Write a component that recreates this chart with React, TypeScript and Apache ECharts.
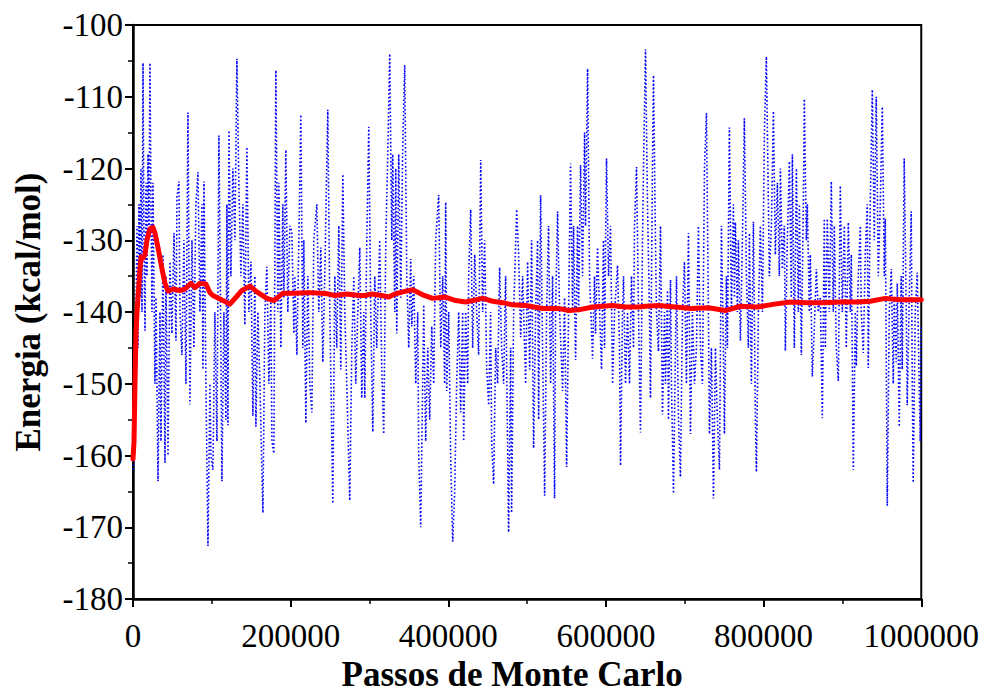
import React, { useEffect, useRef } from "react";
import * as echarts from "echarts";

// Monte Carlo steps (in thousands) and instantaneous energy (kcal/mol)
const blueTrace: [number, number][] = [
  [0, -162], [1.3, -161], [2.5, -158], [3.8, -140], [5.1, -128], [6.3, -145], [7.6, -125], [8.9, -138], [10.1, -120], [11.4, -140],
  [12.7, -105.3], [13.9, -130], [15.2, -142.6], [16.5, -122], [17.7, -135], [19.0, -118], [20.3, -128], [21.5, -105.3], [22.8, -125], [24.1, -140],
  [25.3, -122], [27.9, -150], [29.2, -138], [31.7, -163.6], [34.2, -140], [35.5, -158], [38.0, -132], [40.6, -161], [41.8, -135], [44.4, -160],
  [46.9, -133], [49.4, -143], [52.0, -129], [54.5, -144], [55.8, -124], [58.3, -121.8], [59.6, -140], [62.1, -146], [64.6, -130], [67.2, -150],
  [69.7, -112.2], [72.2, -152.9], [74.8, -130], [77.3, -145], [79.8, -125], [82.4, -120.5], [84.9, -140], [87.5, -125], [88.7, -148], [90.0, -121.8],
  [92.5, -150], [95.1, -172.6], [97.6, -150], [98.9, -160], [101.4, -162], [103.9, -140], [106.5, -158], [109.0, -115.4], [111.5, -145], [112.8, -163.6],
  [115.3, -140], [117.9, -155], [119.1, -125], [120.4, -155.8], [121.7, -114.7], [124.2, -135], [126.7, -120], [129.3, -130], [131.8, -104.7], [134.3, -122],
  [136.9, -135], [139.4, -125], [141.9, -141.8], [144.5, -117], [147.0, -140], [149.6, -133], [152.1, -154.5], [154.6, -135], [155.9, -156], [158.4, -140],
  [161.0, -150], [164.8, -168], [167.3, -140], [169.8, -133.7], [172.4, -150], [174.9, -138], [176.2, -158], [178.7, -159.7], [181.2, -106.3], [183.8, -140],
  [185.0, -122], [187.6, -145], [190.1, -125], [191.4, -138], [193.9, -117.4], [196.4, -140], [199.0, -128], [201.5, -128.7], [204.1, -143], [205.3, -135],
  [207.9, -146], [210.4, -130], [212.9, -112.5], [215.5, -145], [216.7, -130], [219.3, -155.5], [221.8, -135], [224.3, -150], [226.9, -154], [229.4, -130],
  [233.2, -125], [235.7, -140], [238.3, -131], [240.8, -147], [243.3, -135], [247.1, -111.8], [249.7, -140], [253.5, -166.7], [256.0, -135], [258.5, -145],
  [261.1, -128], [263.6, -148], [266.2, -120.8], [268.7, -140], [271.2, -150], [275.0, -166.3], [277.6, -145], [280.1, -135], [282.6, -150], [285.2, -140],
  [287.7, -131], [290.2, -152], [292.8, -140], [294.0, -152], [296.6, -130], [299.1, -114.2], [301.6, -140], [304.2, -156.7], [306.7, -135], [309.2, -145],
  [313.0, -130], [315.6, -148], [318.1, -157], [320.7, -130], [323.2, -118], [325.7, -104], [328.3, -130], [329.5, -118], [332.1, -140], [333.3, -120],
  [334.6, -143], [337.1, -118], [339.7, -138], [342.2, -117], [344.7, -105.6], [347.3, -135], [349.8, -145], [352.3, -132.6], [353.6, -142], [356.1, -135],
  [358.7, -150], [361.2, -140], [362.5, -160], [365.0, -170], [367.5, -150], [368.8, -139], [371.3, -158], [373.9, -145], [376.4, -155], [379.0, -142],
  [381.5, -150], [384.0, -130], [387.8, -123.7], [390.4, -145], [392.9, -135], [395.4, -150], [396.7, -124.7], [398.0, -151], [400.5, -140], [403.0, -160],
  [405.6, -172], [408.1, -165], [410.6, -150], [413.2, -140], [415.7, -154], [418.2, -140], [419.5, -158], [422.0, -140], [424.6, -150], [425.8, -135],
  [428.4, -125.7], [430.9, -145], [433.5, -132], [436.0, -140], [438.5, -146], [441.1, -118.8], [443.6, -140], [446.1, -130], [448.7, -148], [451.2, -153],
  [453.7, -140], [455.0, -158], [457.5, -164], [460.1, -145], [462.6, -150], [465.1, -133.8], [467.7, -145], [470.2, -150], [472.7, -135], [476.5, -170.7],
  [479.1, -145], [480.3, -168], [482.9, -140], [486.7, -125.7], [489.2, -132], [491.8, -143.5], [494.3, -135], [498.1, -150], [500.6, -133], [503.2, -148],
  [505.7, -130], [508.2, -159], [510.8, -140], [513.3, -130], [514.6, -155], [517.1, -123.7], [519.6, -145], [522.2, -165.6], [524.7, -140], [527.2, -128],
  [529.8, -150], [532.3, -135], [534.8, -166], [536.1, -140], [538.6, -126], [541.2, -140], [545.0, -151], [547.5, -138], [550.1, -161.6], [552.6, -140],
  [555.1, -119.3], [557.7, -140], [558.9, -128], [561.5, -146.7], [564.0, -128], [565.3, -140], [567.8, -119.5], [570.3, -135], [572.9, -115], [574.1, -128],
  [576.7, -106.1], [579.2, -135], [583.0, -146.5], [585.5, -135], [586.8, -143], [589.3, -131], [591.9, -140], [594.4, -148], [596.9, -130], [598.2, -145],
  [600.7, -118.6], [603.3, -135], [605.8, -128], [608.4, -150], [610.9, -140], [614.7, -133.5], [617.2, -145], [618.5, -161.4], [621.0, -140], [622.3, -135],
  [624.8, -150], [627.4, -140], [629.9, -150], [632.4, -135], [635.0, -145], [636.2, -128], [638.8, -119.8], [641.3, -140], [643.8, -156.8], [646.4, -130],
  [647.6, -120], [650.2, -103.4], [652.7, -125], [655.2, -140], [656.5, -152], [659.0, -120], [660.3, -107], [662.8, -130], [664.1, -140], [666.6, -145.5],
  [669.2, -128], [671.7, -154.3], [674.3, -140], [675.5, -150], [678.1, -137], [679.3, -155], [681.9, -135.5], [683.1, -150], [685.7, -165.3], [688.2, -145],
  [689.5, -135], [692.0, -155], [694.5, -163], [697.1, -140], [699.6, -133], [702.1, -150], [704.7, -129], [707.2, -157], [709.7, -140], [712.3, -150],
  [714.8, -145], [717.3, -128], [719.9, -145], [722.4, -150], [725.0, -120], [727.5, -112.3], [730.0, -140], [731.3, -157], [733.8, -145], [736.4, -166],
  [738.9, -145], [741.4, -155], [744.0, -162], [746.5, -128], [749.0, -145], [750.3, -157], [752.8, -135], [754.1, -145], [756.6, -114.3], [759.2, -140],
  [761.7, -125], [763.0, -138], [764.2, -127.5], [766.8, -140], [768.0, -130], [770.6, -144], [773.1, -130], [775.6, -113], [778.2, -135], [780.7, -145],
  [782.0, -129], [784.5, -150], [787.1, -127.4], [789.6, -155], [790.9, -162.3], [793.4, -140], [795.9, -128], [798.5, -140], [801.0, -115], [803.5, -104.4],
  [806.1, -125], [807.3, -135], [809.9, -128], [812.4, -112], [814.9, -132], [817.5, -122], [820.0, -135], [821.3, -120], [823.8, -134], [826.3, -128],
  [827.6, -145.4], [830.1, -130], [832.7, -119], [835.2, -138], [836.5, -118], [839.0, -145], [841.6, -120], [844.1, -140], [845.4, -125], [847.9, -146],
  [850.4, -125], [851.7, -110.3], [854.2, -130], [855.5, -125], [858.0, -140], [859.3, -132], [861.8, -149], [864.4, -142], [866.9, -134], [869.4, -140],
  [872.0, -138], [874.5, -154.8], [877.0, -127], [878.3, -145], [880.8, -127], [883.4, -140], [885.9, -121.8], [888.4, -140], [889.7, -128], [892.2, -145],
  [894.8, -149.6], [897.3, -122.4], [899.9, -140], [902.4, -128], [904.9, -145], [907.5, -127.5], [910.0, -140], [911.3, -132], [913.8, -162], [916.3, -140],
  [917.6, -147.5], [920.1, -135], [922.7, -128], [923.9, -140], [926.5, -145.7], [929.0, -132], [931.5, -125], [932.8, -147.8], [935.3, -125], [937.9, -109],
  [940.4, -130], [942.9, -110], [945.5, -135], [948.0, -125], [950.6, -111.4], [953.1, -135], [954.4, -127], [956.9, -167], [959.4, -140], [962.0, -134],
  [964.5, -150], [965.8, -138], [968.3, -147], [969.6, -136], [972.1, -156], [974.6, -135], [975.9, -148], [978.4, -118.6], [981.0, -140], [982.2, -153],
  [984.8, -138], [987.3, -126], [988.6, -150], [989.8, -163.8], [992.4, -140], [994.9, -134.5], [997.4, -150], [998.7, -158], [1000.0, -142],
];

// Monte Carlo steps (in thousands) and running average energy (kcal/mol)
const redAverage: [number, number][] = [
  [0, -160.5], [1.3, -158], [2.5, -150], [3.8, -143], [5.1, -140], [6.3, -138], [8.9, -134], [10.1, -132.3], [12.7, -132.5], [15.2, -132],
  [17.7, -130], [21.5, -128.4], [25.3, -128.2], [27.9, -129], [31.7, -131], [36.8, -134], [40.6, -136], [44.4, -137.1], [50.7, -136.8], [59.6, -137],
  [65.9, -136.8], [73.5, -136], [78.6, -136.6], [84.9, -136], [92.5, -136.1], [97.6, -137.3], [101.4, -137.7], [110.3, -138.2], [122.9, -138.9], [131.8, -137.8],
  [138.1, -137], [148.3, -136.4], [157.2, -137.2], [169.8, -138.1], [178.7, -138.4], [190.1, -137.4], [205.3, -137.4], [223.1, -137.3], [239.6, -137.4], [248.4, -137.5],
  [256.0, -137.7], [271.2, -137.5], [286.4, -137.7], [294.0, -137.7], [302.9, -137.5], [315.6, -137.7], [324.5, -137.9], [332.1, -137.5], [342.2, -137.2], [354.9, -136.9],
  [367.5, -137.6], [380.2, -138.1], [395.4, -137.9], [409.4, -138.4], [422.0, -138.6], [443.6, -138.1], [456.3, -138.5], [469.0, -138.7], [481.6, -139.0], [498.1, -139.1],
  [519.6, -139.5], [539.9, -139.5], [552.6, -139.8], [565.3, -139.7], [583.0, -139.3], [608.4, -139.1], [624.8, -139.3], [641.3, -139.3], [650.2, -139.2], [666.6, -139.1],
  [688.2, -139.3], [708.5, -139.5], [730.0, -139.4], [751.6, -139.8], [770.6, -139.2], [792.1, -139.3], [813.7, -138.9], [833.9, -138.6], [855.5, -138.7], [875.7, -138.7],
  [897.3, -138.6], [918.9, -138.6], [935.3, -138.5], [954.4, -138.1], [973.4, -138.3], [1000.0, -138.3],
];

const xTicks = [0, 200000, 400000, 600000, 800000, 1000000];
const yTicks = [-180, -170, -160, -150, -140, -130, -120, -110, -100];

const xTitle = "Passos de Monte Carlo";
const yTitle = "Energia (kcal/mol)";

const FONT = "'Liberation Serif', 'Times New Roman', serif";

export default function App() {
  const ref = useRef<HTMLDivElement>(null);

  useEffect(() => {
    if (!ref.current) return;
    const chart = echarts.init(ref.current, null, { renderer: "svg" });
    const xMin = xTicks[0];
    const xMax = xTicks[xTicks.length - 1];
    const yMin = yTicks[0];
    const yMax = yTicks[yTicks.length - 1];
    chart.setOption({
      animation: false,
      backgroundColor: "#ffffff",
      grid: {
        left: 133,
        right: 60,
        top: 25,
        bottom: 88,
        show: true,
        borderColor: "#000",
        borderWidth: 2,
        backgroundColor: "transparent",
      },
      xAxis: {
        type: "value",
        min: xMin,
        max: xMax,
        interval: xTicks[1] - xTicks[0],
        name: xTitle,
        nameLocation: "middle",
        nameGap: 58,
        nameTextStyle: { fontFamily: FONT, fontWeight: "bold", fontSize: 35, color: "#000", padding: [0, 30, 0, 0] },
        axisLine: { onZero: false, lineStyle: { color: "#000", width: 2.5 } },
        axisTick: { show: true, inside: false, length: 8, lineStyle: { color: "#000", width: 2 } },
        minorTick: { show: true, splitNumber: 2, length: 5, lineStyle: { color: "#000", width: 1.5 } },
        axisLabel: {
          fontFamily: FONT,
          fontSize: 33,
          color: "#000",
          margin: 20,
          formatter: (v: number) => String(v),
        },
        splitLine: { show: false },
      },
      yAxis: {
        type: "value",
        min: yMin,
        max: yMax,
        interval: yTicks[1] - yTicks[0],
        name: yTitle,
        nameLocation: "middle",
        nameGap: 87,
        nameRotate: 90,
        nameTextStyle: { fontFamily: FONT, fontWeight: "bold", fontSize: 35, color: "#000" },
        axisLine: { onZero: false, lineStyle: { color: "#000", width: 2.5 } },
        axisTick: { show: true, inside: false, length: 8, lineStyle: { color: "#000", width: 2 } },
        minorTick: { show: true, splitNumber: 2, length: 5, lineStyle: { color: "#000", width: 1.5 } },
        axisLabel: {
          fontFamily: FONT,
          fontSize: 33,
          color: "#000",
          margin: 10,
          formatter: (v: number) => String(v),
        },
        splitLine: { show: false },
      },
      series: [
        {
          type: "line",
          data: blueTrace.map(([k, e]) => [k * 1000, e]),
          showSymbol: false,
          symbol: "none",
          lineStyle: { color: "#0000ff", width: 1.6, type: [1.6, 2.2] },
          z: 2,
        },
        {
          type: "line",
          data: redAverage.map(([k, e]) => [k * 1000, e]),
          showSymbol: false,
          symbol: "none",
          lineStyle: { color: "#ff0000", width: 5, join: "round", cap: "round" },
          z: 3,
        },
      ],
    });
    return () => chart.dispose();
  }, []);

  return (
    <div
      ref={ref}
      style={{ position: "fixed", left: 0, top: 0, width: 982, height: 697, background: "#fff" }}
    />
  );
}
